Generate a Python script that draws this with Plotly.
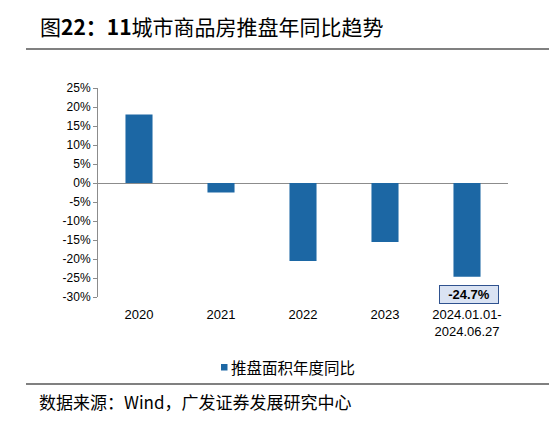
import plotly.graph_objects as go

categories = ["2020", "2021", "2022", "2023", "2024.01.01-<br>2024.06.27"]
values = [18.0, -2.5, -20.5, -15.5, -24.7]
series_name = "推盘面积年度同比"
y_ticks = [25, 20, 15, 10, 5, 0, -5, -10, -15, -20, -25, -30]
y_ticklabels = [f"{v}%" for v in y_ticks]
highlight_label = "-24.7%"
bar_color = "#1c67a4"

O = 8  # page body margin offset
W, H = 560, 435
L, R, T, B = 98 - O, 508 - O, 88 - O, 297 - O
def px(x):
    return (x - O - L) / (R - L)
def py(y):
    return (B - (y - O)) / (B - T)

fig = go.Figure()
fig.add_trace(go.Bar(
    x=categories, y=values, name=series_name,
    marker=dict(color=bar_color, line=dict(width=0)),
    width=0.33, showlegend=False,
))

fig.update_layout(
    width=W, height=H,
    margin=dict(l=L, r=W - R, t=T, b=H - B),
    paper_bgcolor="white", plot_bgcolor="white",
    font=dict(family="Liberation Sans, Arial, sans-serif", size=12, color="#000"),
    xaxis=dict(showgrid=False, showline=False, ticks="", tickfont=dict(size=13),
               zeroline=False, ticklabelstandoff=8),
    yaxis=dict(range=[-30, 25], tickvals=y_ticks, ticktext=y_ticklabels,
               showgrid=False, showline=True, linecolor="#8c8c8c", linewidth=1,
               ticks="outside", ticklen=4, tickcolor="#8c8c8c",
               zeroline=True, zerolinecolor="#8c8c8c", zerolinewidth=1,
               tickfont=dict(size=12)),
    showlegend=False,
    bargap=0.6,
)

fig.add_annotation(x=categories[4], y=values[4], xref="x", yref="y",
                   text=f"<b>{highlight_label}</b>", showarrow=False,
                   yanchor="top", yshift=-8, xshift=2, font=dict(size=13, color="#000"),
                   width=56, height=15,
                   bgcolor="#dae3f3", bordercolor="#2f528f", borderwidth=1, borderpad=1)

# legend (custom: small square marker + label)
fig.add_shape(type="rect", xref="paper", yref="paper",
              x0=px(221), x1=px(227.5), y0=py(364), y1=py(370.5),
              fillcolor=bar_color, line=dict(width=0))
fig.add_annotation(x=px(229), y=py(367), xref="paper", yref="paper", xanchor="left", yanchor="middle",
                   text=series_name, showarrow=False,
                   font=dict(family="Noto Sans CJK SC", size=15.5, color="#000"))

fig.add_annotation(x=px(38), y=py(26), xref="paper", yref="paper", xanchor="left", yanchor="middle",
                   text="图<b>22：11</b>城市商品房推盘年同比趋势", showarrow=False,
                   font=dict(family="Noto Sans CJK SC", size=21, color="#000"))
fig.add_annotation(x=px(37), y=py(401), xref="paper", yref="paper", xanchor="left", yanchor="middle",
                   text="数据来源：Wind，广发证券发展研究中心", showarrow=False,
                   font=dict(family="Noto Sans CJK SC", size=17, color="#000"))

for yy in (49, 384):
    fig.add_shape(type="line", xref="paper", yref="paper", x0=px(26), x1=px(549),
                  y0=py(yy), y1=py(yy), line=dict(color="#808080", width=2))

fig.write_html("out.html")
